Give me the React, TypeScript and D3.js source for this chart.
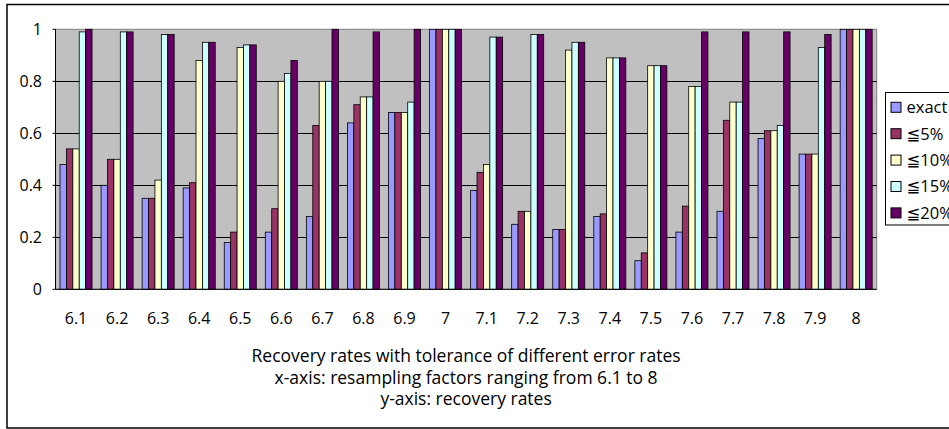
import React from "react";
import * as d3 from "d3";

const categories = ["6.1","6.2","6.3","6.4","6.5","6.6","6.7","6.8","6.9","7","7.1","7.2","7.3","7.4","7.5","7.6","7.7","7.8","7.9","8"];
const exact = [0.48,0.40,0.35,0.39,0.18,0.22,0.28,0.64,0.68,1.0,0.38,0.25,0.23,0.28,0.11,0.22,0.30,0.58,0.52,1.0];
const le5 =   [0.54,0.50,0.35,0.41,0.22,0.31,0.63,0.71,0.68,1.0,0.45,0.30,0.23,0.29,0.14,0.32,0.65,0.61,0.52,1.0];
const le10 =  [0.54,0.50,0.42,0.88,0.93,0.80,0.80,0.74,0.68,1.0,0.48,0.30,0.92,0.89,0.86,0.78,0.72,0.61,0.52,1.0];
const le15 =  [0.99,0.99,0.98,0.95,0.94,0.83,0.80,0.74,0.72,1.0,0.97,0.98,0.95,0.89,0.86,0.78,0.72,0.63,0.93,1.0];
const le20 =  [1.0,0.99,0.98,0.95,0.94,0.88,1.0,0.99,1.0,1.0,0.97,0.98,0.95,0.89,0.86,0.99,0.99,0.99,0.98,1.0];
const seriesNames = ["exact","\u22665%","\u226610%","\u226615%","\u226620%"];
const seriesColors = ["#9999FF","#993366","#FFFFCC","#CCFFFF","#660066"];
const yTicks = [0,0.2,0.4,0.6,0.8,1];
const titleLines = [
  "Recovery rates with tolerance of different error rates",
  "x-axis: resampling factors ranging from 6.1 to 8",
  "y-axis: recovery rates",
];

const W = 949, H = 429;
const plot = { left: 55.5, right: 876.7, top: 29.3, bottom: 289.3 };
const FONT = "'Open Sans', 'DejaVu Sans', sans-serif";

export default function App() {
  const series = [exact, le5, le10, le15, le20];
  const x = d3.scaleBand<string>().domain(categories).range([plot.left, plot.right]).paddingInner(0.22).paddingOuter(0.11);
  const xs = d3.scaleBand<number>().domain(d3.range(series.length)).range([0, x.bandwidth()]);
  const y = d3.scaleLinear().domain([0, 1]).range([plot.bottom, plot.top]);
  const cx = (plot.left + plot.right) / 2;

  return (
    <svg width={W} height={H} style={{ position: "absolute", left: 0, top: 0, background: "#fff" }} fontFamily={FONT}>
      <rect x={7} y={4.5} width={W + 10} height={423.5} fill="#fff" stroke="#000" strokeWidth={1.5} />
      <rect x={plot.left} y={plot.top} width={plot.right - plot.left} height={plot.bottom - plot.top} fill="#C0C0C0" stroke="#808080" strokeWidth={1} />
      {yTicks.filter(t => t > 0 && t < 1).map(t => (
        <line key={t} x1={plot.left} x2={plot.right} y1={Math.round(y(t)) + 0.5} y2={Math.round(y(t)) + 0.5} stroke="#000" strokeWidth={1} />
      ))}
      {series.map((vals, si) => vals.map((v, ci) => (
        <rect key={si + "-" + ci}
          x={(x(categories[ci]) as number) + (xs(si) as number)}
          y={y(v)} width={xs.bandwidth()} height={plot.bottom - y(v)}
          fill={seriesColors[si]} stroke="#000" strokeWidth={0.8} />
      )))}
      <line x1={plot.left} x2={plot.left} y1={plot.top} y2={plot.bottom} stroke="#000" strokeWidth={1} />
      <line x1={plot.left} x2={plot.right} y1={plot.bottom} y2={plot.bottom} stroke="#000" strokeWidth={1} />
      {yTicks.map(t => (
        <g key={t}>
          <line x1={plot.left - 3} x2={plot.left} y1={y(t)} y2={y(t)} stroke="#000" />
          <text x={42} y={y(t)} dy="0.36em" textAnchor="end" fontSize={16} fill="#000">{d3.format("~g")(t)}</text>
        </g>
      ))}
      {categories.map(c => (
        <text key={c} x={(x(c) as number) + x.bandwidth() / 2} y={323.5} textAnchor="middle" fontSize={16} fill="#000">{c}</text>
      ))}
      {titleLines.map((t, i) => (
        <text key={i} x={cx} y={[362, 384, 405][i]} textAnchor="middle" fontSize={17.5} fill="#000">{t}</text>
      ))}
      <rect x={885.5} y={92.5} width={80} height={132.5} fill="#fff" stroke="#000" strokeWidth={1} />
      {seriesNames.map((n, i) => (
        <g key={n} transform={`translate(0, ${107.3 + i * 26.4})`}>
          <rect x={891} y={-5} width={10} height={10} fill={seriesColors[i]} stroke="#000" strokeWidth={1} />
          <text x={906.5} y={0} dy="0.36em" fontSize={16.5} fill="#000">{n}</text>
        </g>
      ))}
    </svg>
  );
}
